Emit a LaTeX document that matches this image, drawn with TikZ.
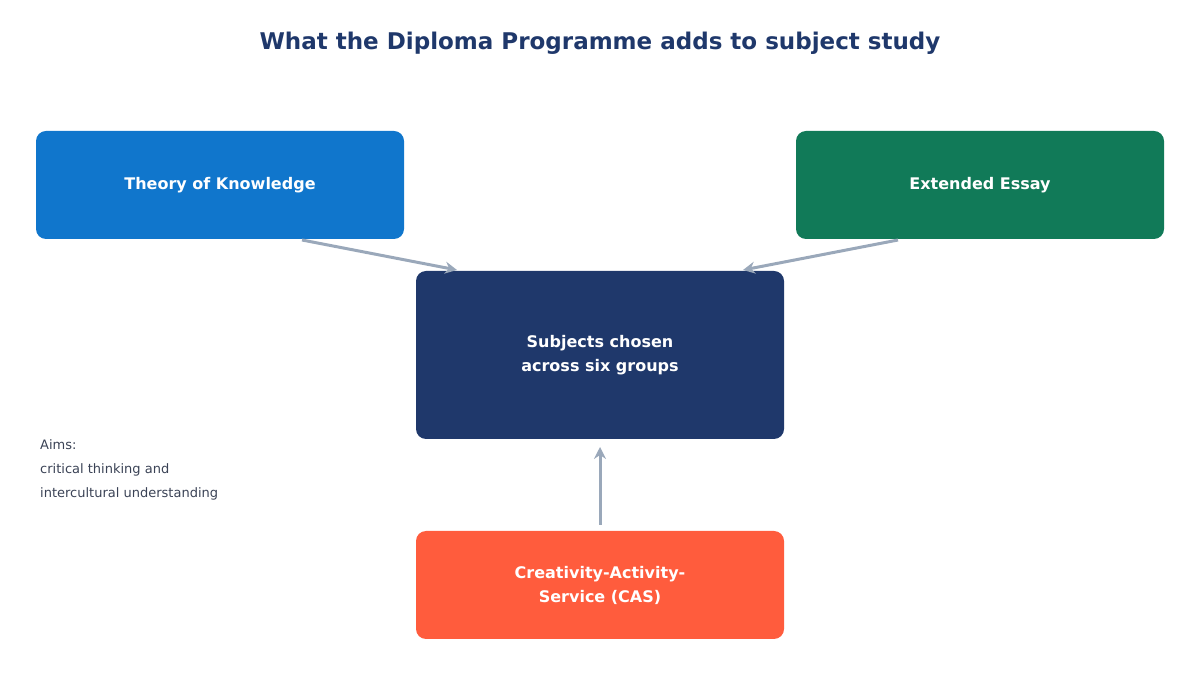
\documentclass[tikz,border=0pt]{standalone}
\usepackage{fontspec}
\setmainfont{DejaVu Sans}
\usetikzlibrary{arrows.meta,positioning}
\definecolor{tokblue}{HTML}{1076CC}
\definecolor{eegreen}{HTML}{117A58}
\definecolor{navy}{HTML}{1F386B}
\definecolor{casred}{HTML}{FF5C3D}
\definecolor{linkgray}{HTML}{9AA8BA}
\definecolor{textgray}{HTML}{3A4255}
\begin{document}
\begin{tikzpicture}[
		x=1pt, y=1pt,
		block/.style={rounded corners=10pt, minimum width=368pt, minimum height=108pt, text=white, align=center, font=\bfseries\fontsize{16}{24}\selectfont},
		arrow/.style={-{Stealth[length=12pt,width=12pt,inset=4pt]}, linkgray, line width=3pt, shorten >=0pt},
	]
		\useasboundingbox (0,0) rectangle (1200,675);
		\node[font=\bfseries\fontsize{23}{28}\selectfont, text=navy] (title) at (600,632) {What the Diploma Programme adds to subject study};

		\node[block, fill=tokblue] (tok) at (220,490) {Theory of Knowledge};
		\node[block, fill=eegreen] (ee) at (980,490) {Extended Essay};
		\node[block, fill=navy, minimum height=168pt] (subjects) at (600,320) {Subjects chosen\\across six groups};
		\node[block, fill=casred] (cas) at (600,90) {Creativity-Activity-\\Service (CAS)};

		\node[anchor=north west, align=left, text=textgray, font=\fontsize{13}{24}\selectfont, inner sep=0pt] (aims) at (40,236) {Aims:\\critical thinking and\\intercultural understanding};

		% arrow ends
		\coordinate (tok out) at (302,435);
		\coordinate (ee out) at (898,435);
		\coordinate (cas out) at (600,150);
		\coordinate (sub left) at (457,405);
		\coordinate (sub right) at (743,405);
		\coordinate (sub low) at (600,228);

		\draw[arrow] (tok out) -- (sub left);
		\draw[arrow] (ee out) -- (sub right);
		\draw[arrow] (cas out) -- (sub low);
	\end{tikzpicture}
\end{document}
